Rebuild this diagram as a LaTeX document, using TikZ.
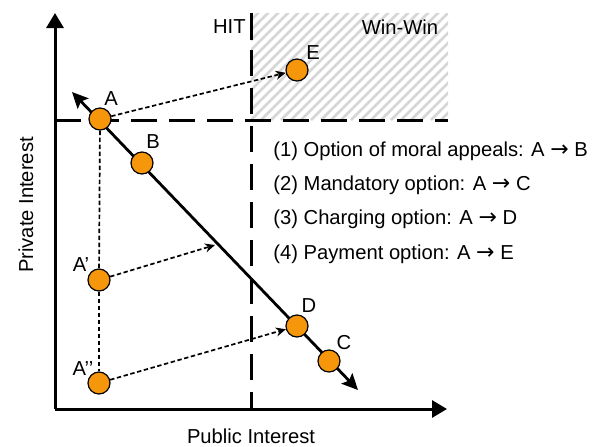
\documentclass[tikz,border=0pt]{standalone}
\usepackage{fontspec}
\setmainfont{Liberation Sans}
\newfontfamily\arrowfont{DejaVu Sans}
\newcommand{\rarr}{{\arrowfont\fontsize{11}{12}\selectfont →}}
\usetikzlibrary{arrows.meta}
\definecolor{dotorange}{RGB}{246,150,10}
\definecolor{hatchgray}{RGB}{214,214,214}
\begin{document}
\begin{tikzpicture}[x=0.5pt,y=-0.5pt,
  lbl/.style={font=\fontsize{10.1}{12}\selectfont, inner sep=0pt},
  dot/.style={circle, draw=black, line width=0.6pt, fill=dotorange, minimum size=11pt, inner sep=0pt},
  axis/.style={line width=1.5pt, -{Triangle[length=7.5pt,width=8.5pt]}},
  longdash/.style={line width=1.5pt, dash pattern=on 13pt off 6pt},
  mainline/.style={line width=1.4pt, {Stealth[length=8pt,width=7.5pt,inset=1.5pt]}-{Stealth[length=8pt,width=7.5pt,inset=1.5pt]}},
  dotarrow/.style={line width=0.85pt, dash pattern=on 2.2pt off 1.3pt, -{Stealth[length=5pt,width=4.5pt]}},
  dotline/.style={line width=0.85pt, dash pattern=on 2.2pt off 1.3pt}
]
\useasboundingbox (0,0) rectangle (601,446);
% hatched region
\begin{scope}
  \clip (251,13) rectangle (448,120);
  \foreach \k in {0,10,...,330} {
    \draw[hatchgray, line width=1.4pt] (251+\k-120,120) -- (251+\k,0);
  }
\end{scope}
% axes
\coordinate (origin) at (55,409);
\coordinate (ytop) at (55,13);
\coordinate (xend) at (447,409);
\draw[axis] (origin) -- (ytop);
\draw[axis] (origin) -- (xend);
% HIT dashed lines
\coordinate (hitTop) at (251,13);
\coordinate (hitBot) at (251,409);
\coordinate (hLeft) at (55,120);
\coordinate (hRight) at (448,120);
\draw[line width=1.5pt] (hitTop) -- (251,40);
\draw[longdash] (251,50) -- (hitBot);
\draw[longdash] (hLeft) -- (hRight);
\node[lbl, anchor=east] (hit) at (246,27) {HIT};
\node[lbl] (winwin) at (400,27) {Win-Win};
% main line
\coordinate (mlStart) at (72,92);
\coordinate (mlEnd) at (358,390);
\draw[mainline] (mlStart) -- (mlEnd);
% dots
\node[dot] (A) at (100,119) {};
\node[dot] (B) at (142,163) {};
\node[dot] (Ap) at (99,280) {};
\node[dot] (App) at (99,383) {};
\node[dot] (D) at (297,326) {};
\node[dot] (C) at (329,361) {};
\node[dot] (E) at (297,70) {};
\node[lbl] (lA) at (111,99) {A};
\node[lbl] (lB) at (153,142) {B};
\node[lbl] (lAp) at (81,265) {A’};
\node[lbl] (lApp) at (83,369) {A’’};
\node[lbl] (lD) at (309,306) {D};
\node[lbl] (lC) at (344,343) {C};
\node[lbl] (lE) at (313,53) {E};
% dotted connectors
\draw[dotline] (A) -- (Ap);
\draw[dotline] (Ap) -- (App);
\coordinate (onLine) at (215,245);
\draw[dotarrow] (A) -- (E);
\draw[dotarrow] (Ap) -- (onLine);
\draw[dotarrow] (App) -- (D);
% legend
\node[lbl, anchor=west] (t1) at (273,151) {(1) Option of moral appeals: A \rarr{} B};
\node[lbl, anchor=west] (t2) at (273,185) {(2) Mandatory option: A \rarr{} C};
\node[lbl, anchor=west] (t3) at (273,219) {(3) Charging option: A \rarr{} D};
\node[lbl, anchor=west] (t4) at (273,254) {(4) Payment option: A \rarr{} E};
% axis labels
\node[lbl] (xl) at (251,436) {Public Interest};
\node[lbl, rotate=90] (yl) at (26,205) {Private Interest};
\end{tikzpicture}
\end{document}
